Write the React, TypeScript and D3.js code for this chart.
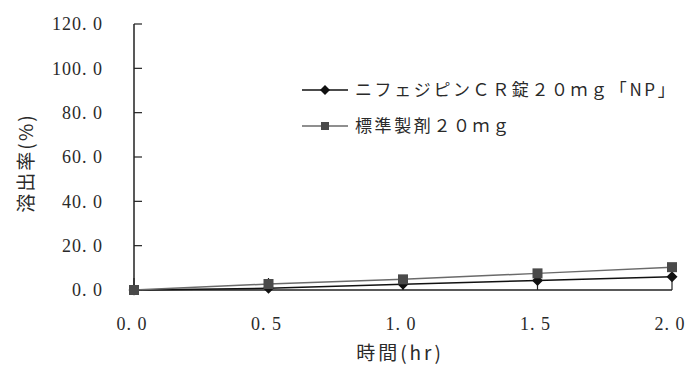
import React from "react";
import * as d3 from "d3";

// Dissolution profile (%) over time (hr)
const times = [0, 0.5, 1.0, 1.5, 2.0];
const npValues = [0, 0.8, 2.6, 4.3, 6.0];
const refValues = [0, 2.7, 4.8, 7.5, 10.3];
const yTicks = [0, 20, 40, 60, 80, 100, 120];
const xTicks = [0, 0.5, 1.0, 1.5, 2.0];
const seriesNames = ["ニフェジピンＣＲ錠２０ｍｇ「NP」", "標準製剤２０ｍｇ"];

const W = 685;
const H = 365;
const plot = { left: 134, right: 672, top: 24, bottom: 290 };

const numFont = "'Liberation Serif', 'DejaVu Serif', serif";
const cjkFont = "'Noto Sans CJK JP', 'Noto Sans', sans-serif";

const fmt = (v: number) => v.toFixed(1).replace(".", ". ");

function Diamond({ cx, cy, r, fill }: { cx: number; cy: number; r: number; fill: string }) {
  return (
    <path
      d={`M${cx},${cy - r}L${cx + r},${cy}L${cx},${cy + r}L${cx - r},${cy}Z`}
      fill={fill}
    />
  );
}

function Square({ cx, cy, s, fill }: { cx: number; cy: number; s: number; fill: string }) {
  return <rect x={cx - s / 2} y={cy - s / 2} width={s} height={s} fill={fill} />;
}

export default function App() {
  const x = d3.scaleLinear().domain([0, 2]).range([plot.left, plot.right]);
  const y = d3.scaleLinear().domain([0, 120]).range([plot.bottom, plot.top]);

  const line = d3
    .line<number>()
    .x((_, i) => x(times[i]))
    .y((d) => y(d));

  const axisColor = "#222";
  const textColor = "#2a2a2a";
  const npColor = "#111";
  const refLine = "#6a6a6a";
  const refMarker = "#4a4a4a";

  return (
    <svg
      width={W}
      height={H}
      style={{ position: "absolute", left: 0, top: 0, background: "#fff" }}
    >
      {/* axes */}
      <line x1={plot.left} x2={plot.left} y1={plot.top} y2={plot.bottom} stroke={axisColor} strokeWidth={1.5} />
      <line x1={plot.left} x2={plot.right} y1={plot.bottom} y2={plot.bottom} stroke={axisColor} strokeWidth={1.5} />

      {yTicks.map((t) => (
        <g key={`y${t}`}>
          <line x1={plot.left} x2={plot.left + 8} y1={y(t)} y2={y(t)} stroke={axisColor} strokeWidth={1.2} />
          <text
            x={103}
            y={y(t)}
            dy="0.35em"
            textAnchor="end"
            fontFamily={numFont}
            fontSize={18}
            letterSpacing={1}
            fill={textColor}
          >
            {fmt(t)}
          </text>
        </g>
      ))}

      {xTicks.map((t) => (
        <g key={`x${t}`}>
          <line x1={x(t)} x2={x(t)} y1={plot.bottom} y2={plot.bottom - 12} stroke={axisColor} strokeWidth={1.2} />
          <text
            x={x(t) - 2}
            y={330}
            textAnchor="middle"
            fontFamily={numFont}
            fontSize={18}
            letterSpacing={1}
            fill={textColor}
          >
            {fmt(t)}
          </text>
        </g>
      ))}

      <text x={400} y={360} textAnchor="middle" fontFamily={cjkFont} fontSize={19} letterSpacing={3} fill={textColor}>
        時間(hr)
      </text>
      <text
        transform={`translate(33,163) rotate(-90)`}
        textAnchor="middle"
        fontFamily={cjkFont}
        fontSize={19}
        letterSpacing={2}
        fill={textColor}
      >
        溶出率(%)
      </text>

      {/* series */}
      <path d={line(npValues) ?? ""} fill="none" stroke={npColor} strokeWidth={1.5} />
      <path d={line(refValues) ?? ""} fill="none" stroke={refLine} strokeWidth={1.5} />
      {npValues.map((v, i) => (
        <Diamond key={`d${i}`} cx={x(times[i])} cy={y(v)} r={5.5} fill={npColor} />
      ))}
      {refValues.map((v, i) => (
        <Square key={`s${i}`} cx={x(times[i])} cy={y(v)} s={10} fill={refMarker} />
      ))}

      {/* legend */}
      <g>
        <line x1={302} x2={348} y1={90} y2={90} stroke={npColor} strokeWidth={1.5} />
        <Diamond cx={325} cy={90} r={5} fill={npColor} />
        <text x={355} y={90} dy="0.35em" fontFamily={cjkFont} fontSize={17} letterSpacing={2.6} fill={textColor}>
          {seriesNames[0]}
        </text>
        <line x1={302} x2={348} y1={126} y2={126} stroke={refLine} strokeWidth={1.5} />
        <Square cx={325} cy={126} s={8} fill={refMarker} />
        <text x={355} y={126} dy="0.35em" fontFamily={cjkFont} fontSize={17} letterSpacing={2.6} fill={textColor}>
          {seriesNames[1]}
        </text>
      </g>
    </svg>
  );
}
